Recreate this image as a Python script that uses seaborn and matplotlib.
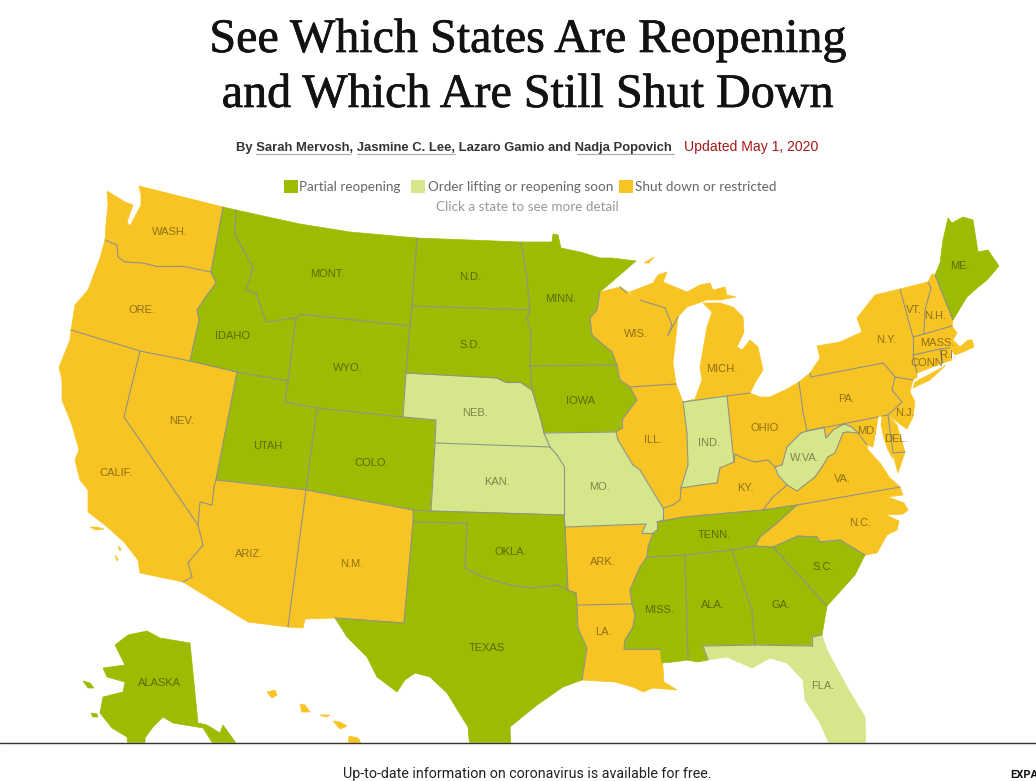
import numpy as np
import pandas as pd
import seaborn as sns
import matplotlib
matplotlib.use("Agg")
import matplotlib.pyplot as plt
import matplotlib.patheffects as pe
from collections import Counter

# status per state
PARTIAL = ["ALASKA", "ALA.", "COLO.", "GA.", "IDAHO", "IOWA", "ME.", "MINN.", "MISS.", "MONT.", "N.D.", "OKLA.", "S.C.", "S.D.", "TENN.", "TEXAS", "UTAH", "WYO."]
LIFTING = ["FLA.", "IND.", "KAN.", "MO.", "NEB.", "W.VA."]
LEGEND_LABELS = ["Partial reopening", "Order lifting or reopening soon", "Shut down or restricted"]
COLORS = ["#9dbb00", "#d6e68a", "#f8c424"]

# state outlines (pixel coordinates)
WASH = [(107,191),(125,202),(133,205),(127,222),(130,226),(141,205),(141,195),(139,186),(223,207),(211,272),(181,266),(155,266),(143,263),(125,262),(118,257),(117,245),(105,240),(106,225),(108,205)]
ORE = [(105,240),(117,245),(118,257),(125,262),(143,263),(155,266),(181,266),(211,272),(216,283),(205,298),(197,310),(199,320),(190,361),(140,351),(71,330),(73,318),(75,305),(88,290),(100,258)]
CALIF = [(71,330),(140,351),(124,417),(198,525),(203,545),(188,563),(192,577),(183,582),(140,573),(138,560),(124,542),(105,525),(88,512),(88,490),(80,480),(75,460),(79,450),(72,425),(62,400),(62,380),(59,367),(70,340)]
NEV = [(140,351),(190,361),(237,372),(216,480),(214,487),(212,505),(200,502),(198,525),(124,417)]
IDAHO = [(223,207),(236,210),(235,235),(241,245),(253,268),(246,290),(256,293),(266,322),(296,318),(288,381),(237,372),(190,361),(199,320),(197,310),(205,298),(216,283),(211,272)]
MONT = [(236,210),(300,224),(350,232),(417,238),(412,306),(410,326),(300,314),(296,318),(266,322),(256,293),(246,290),(253,268),(241,245),(235,235)]
WYO = [(300,314),(410,326),(406,373),(403,417),(317,408),(285,402),(288,381),(296,318)]
UTAH = [(237,372),(288,381),(285,402),(317,408),(306,490),(216,480)]
COLO = [(317,408),(403,417),(436,420),(435,443),(431,511),(413,510),(306,490)]
ARIZ = [(216,480),(306,490),(288,627),(248,622),(183,582),(192,577),(188,563),(203,545),(198,525),(200,502),(212,505),(214,487)]
NM = [(306,490),(413,510),(413,522),(404,623),(335,618),(305,619),(303,628),(288,627)]
NEB = [(406,373),(497,378),(505,382),(520,382),(532,390),(535,400),(541,420),(544,433),(550,447),(435,443),(436,420),(403,417)]
KAN = [(435,443),(550,447),(557,455),(564,466),(564,515),(431,511)]
SD = [(412,306),(530,310),(527,318),(531,333),(530,366),(532,390),(520,382),(505,382),(497,378),(406,373),(410,326)]
ND = [(417,238),(521,242),(527,280),(530,310),(412,306)]
MINN = [(521,242),(552,242),(553,234),(558,235),(561,248),(580,252),(600,258),(612,258),(636,261),(600,292),(597,310),(590,318),(592,335),(612,352),(617,365),(530,366),(531,333),(527,318),(530,310),(527,280)]
IOWA = [(530,366),(617,365),(620,380),(630,387),(637,400),(628,412),(622,420),(622,428),(616,432),(544,433),(541,420),(535,400),(532,390)]
WIS = [(600,292),(620,287),(627,293),(640,300),(665,308),(672,325),(668,335),(678,317),(673,363),(676,384),(630,387),(620,380),(617,365),(612,352),(592,335),(590,318),(597,310)]
MICH_UP = [(620,287),(627,293),(653,283),(658,275),(667,272),(663,282),(687,292),(700,285),(710,283),(713,290),(725,287),(727,295),(736,297),(720,300),(707,300),(687,307),(678,317),(668,335),(672,325),(665,308),(640,300)]
MICH_LOW = [(703,303),(720,303),(733,307),(743,317),(744,332),(737,347),(742,350),(750,340),(758,347),(763,370),(755,383),(750,393),(727,396),(683,402),(695,399),(702,380),(700,367),(707,327),(712,312)]
ILL = [(630,387),(676,384),(683,402),(687,433),(688,465),(681,488),(680,500),(673,505),(663,508),(640,470),(633,465),(618,440),(616,432),(622,428),(622,420),(628,412),(637,400)]
IND = [(683,402),(727,396),(734,462),(720,468),(717,483),(700,485),(681,488),(688,465),(687,433)]
OHIO = [(727,396),(750,393),(760,397),(770,397),(785,390),(799,382),(803,412),(807,431),(801,433),(787,447),(782,465),(775,467),(768,460),(755,462),(743,458),(735,454),(734,462)]
KY = [(663,508),(673,505),(680,500),(681,488),(700,485),(717,483),(720,468),(734,462),(735,454),(743,458),(755,462),(768,460),(775,467),(778,475),(787,485),(772,498),(763,510),(683,517),(657,522),(663,520)]
WVA = [(775,467),(782,465),(787,447),(801,433),(807,431),(824,427),(826,438),(833,430),(844,424),(852,427),(858,433),(847,432),(843,433),(835,453),(828,457),(822,467),(815,477),(797,491),(787,485),(778,475)]
PA = [(799,382),(810,373),(811,377),(883,363),(892,373),(895,377),(892,390),(902,402),(888,415),(882,416),(878,417),(807,431),(803,412)]
NY = [(810,373),(820,358),(817,346),(840,342),(862,332),(857,318),(875,295),(900,289),(907,315),(913,337),(913,355),(917,373),(917,377),(913,380),(895,377),(892,373),(883,363),(811,377)]
LONG_ISLAND = [(915,382),(945,366),(930,380),(913,388)]
VT = [(900,289),(928,282),(931,288),(925,310),(924,334),(913,337),(907,315)]
NH = [(928,282),(932,274),(935,275),(953,320),(952,326),(924,334),(925,310),(931,288)]
ME = [(935,275),(940,263),(943,240),(948,218),(952,223),(963,217),(973,220),(978,252),(988,250),(999,266),(987,280),(977,288),(967,297),(953,320)]
MASS = [(913,337),(924,334),(952,326),(957,333),(953,340),(960,347),(968,340),(972,340),(974,347),(963,352),(955,355),(950,348),(940,349),(913,355)]
CONN = [(913,355),(940,349),(943,363),(917,373)]
RI = [(940,349),(950,348),(952,360),(943,363)]
NJ = [(895,377),(913,380),(910,392),(915,402),(913,417),(907,429),(897,422),(888,415),(902,402),(892,390)]
DEL = [(888,415),(897,425),(905,452),(893,453)]
MD = [(807,431),(878,417),(876,430),(873,447),(867,445),(858,433),(852,427),(844,424),(833,430),(826,438),(824,427)]
MD_EAST = [(882,416),(888,415),(893,453),(893,459),(888,450),(884,438),(881,425)]
VA = [(787,485),(797,491),(815,477),(822,467),(828,457),(835,453),(843,433),(847,432),(858,433),(867,445),(868,450),(880,463),(890,478),(900,487),(797,505),(763,510),(772,498)]
VA_SHORE = [(893,453),(905,452),(898,473),(895,462)]
NC = [(900,487),(903,495),(888,497),(904,503),(908,510),(903,514),(886,515),(899,521),(897,530),(887,535),(877,553),(865,555),(840,540),(820,542),(817,537),(798,536),(773,547),(755,546),(760,537),(777,523),(797,505)]
TENN = [(657,522),(683,517),(763,510),(797,505),(777,523),(760,537),(755,546),(732,550),(685,555),(647,557),(648,547),(653,533),(657,530)]
ARK = [(565,527),(646,524),(642,533),(653,533),(648,547),(647,557),(640,567),(630,590),(632,604),(577,605),(576,593),(568,590)]
MO = [(544,433),(616,432),(618,440),(633,465),(640,470),(663,508),(663,520),(657,522),(657,530),(653,533),(642,533),(646,524),(565,527),(564,515),(564,466),(557,455),(550,447)]
OKLA = [(413,510),(431,511),(564,515),(565,527),(568,590),(557,585),(533,588),(510,585),(483,577),(465,568),(467,523),(413,522)]
TEXAS = [(413,522),(467,523),(465,568),(483,577),(510,585),(533,588),(557,585),(568,590),(576,593),(577,605),(578,628),(587,648),(582,680),(563,687),(537,705),(510,727),(511,750),(470,750),(468,727),(447,693),(430,677),(415,673),(405,680),(397,692),(377,677),(367,657),(347,637),(335,618),(404,623)]
LA = [(577,605),(632,604),(635,615),(633,627),(625,640),(624,649),(660,649),(663,667),(664,682),(677,690),(653,688),(643,692),(633,687),(615,682),(582,680),(587,648),(578,628)]
MISS = [(647,557),(685,555),(688,660),(673,662),(662,663),(660,649),(624,649),(625,640),(633,627),(635,615),(632,604),(630,590),(640,567)]
ALA = [(685,555),(732,550),(752,610),(755,645),(703,646),(708,660),(697,662),(688,660)]
GA = [(732,550),(755,546),(773,547),(827,606),(822,635),(812,637),(812,646),(755,645),(752,610)]
SC = [(773,547),(798,536),(817,537),(820,542),(840,540),(865,555),(855,575),(827,606)]
FLA = [(703,646),(755,645),(812,646),(812,637),(822,635),(827,650),(847,687),(865,717),(866,750),(832,750),(820,723),(805,700),(803,680),(787,663),(770,658),(752,668),(727,657),(708,660)]
ALASKA = [(115,645),(128,635),(147,631),(160,638),(190,643),(198,723),(207,725),(220,733),(223,725),(241,750),(217,750),(203,728),(173,723),(163,717),(153,727),(145,738),(145,750),(128,750),(127,737),(112,728),(100,713),(103,697),(123,692),(125,682),(107,677),(103,668),(125,665)]
ALASKA_ISLE1 = [(83,681),(90,683),(94,688),(88,688)]
ALASKA_ISLE2 = [(91,713),(97,714),(98,717),(93,717)]
HAWAII1 = [(267,692),(275,690),(277,695),(272,698)]
HAWAII2 = [(300,704),(305,705),(310,712),(302,712)]
HAWAII3 = [(320,715),(330,715),(326,717),(322,716)]
HAWAII4 = [(333,721),(340,722),(347,726),(340,729)]
HAWAII5 = [(349,736),(358,738),(365,750),(348,750)]
CAL_ISLE1 = [(90,527),(97,527),(104,529),(96,530)]
CAL_ISLE2 = [(118,546),(121,549),(120,551)]
CAL_ISLE3 = [(115,555),(118,559),(117,561)]
ISLE_ROYALE = [(644,263),(654,257),(649,263)]

STATES = [("WASH.",WASH),("ORE.",ORE),("CALIF.",CALIF),("NEV.",NEV),("IDAHO",IDAHO),("MONT.",MONT),("WYO.",WYO),("UTAH",UTAH),
          ("COLO.",COLO),("ARIZ.",ARIZ),("N.M.",NM),("NEB.",NEB),("KAN.",KAN),("S.D.",SD),("N.D.",ND),("MINN.",MINN),("IOWA",IOWA),
          ("WIS.",WIS),("MICH.",MICH_UP),("MICH.",MICH_LOW),("ILL.",ILL),("IND.",IND),("OHIO",OHIO),("KY.",KY),("W.VA.",WVA),("PA.",PA),
          ("N.Y.",NY),("N.Y.",LONG_ISLAND),("VT.",VT),("N.H.",NH),("ME.",ME),("MASS.",MASS),("CONN.",CONN),("R.I.",RI),("N.J.",NJ),
          ("DEL.",DEL),("MD.",MD),("MD.",MD_EAST),("VA.",VA),("VA.",VA_SHORE),("N.C.",NC),("TENN.",TENN),("ARK.",ARK),("MO.",MO),
          ("OKLA.",OKLA),("TEXAS",TEXAS),("LA.",LA),("MISS.",MISS),("ALA.",ALA),("GA.",GA),("S.C.",SC),("FLA.",FLA),("ALASKA",ALASKA),
          ("ALASKA",ALASKA_ISLE1),("ALASKA",ALASKA_ISLE2),("HAWAII",HAWAII1),("HAWAII",HAWAII2),("HAWAII",HAWAII3),("HAWAII",HAWAII4),
          ("HAWAII",HAWAII5),("CALIF.",CAL_ISLE1),("CALIF.",CAL_ISLE2),("CALIF.",CAL_ISLE3),("MICH.",ISLE_ROYALE)]

STATE_LABELS = ["WASH.","ORE.","CALIF.","NEV.","IDAHO","MONT.","WYO.","UTAH","COLO.","ARIZ.","N.M.","N.D.","S.D.","NEB.","KAN.","OKLA.","TEXAS","MINN.","IOWA","MO.","ARK.","LA.","WIS.","ILL.","MICH.","IND.","OHIO","KY.","TENN.","MISS.","ALA.","GA.","S.C.","FLA.","N.C.","VA.","W.VA.","PA.","N.Y.","VT.","N.H.","MASS.","R.I.","CONN.","N.J.","DEL.","MD.","ME.","ALASKA"]
LABEL_X = [170,142,116,181,233,327,348,268,372,249,352,470,470,475,497,511,487,561,581,600,603,603,636,653,722,709,765,745,714,659,713,781,823,823,860,842,805,847,886,914,935,937,948,928,905,896,867,960,159]
LABEL_Y = [232,310,473,421,336,274,368,446,463,554,564,277,345,413,482,552,648,299,401,487,562,632,334,440,369,443,428,488,535,610,605,605,567,686,523,479,458,399,340,310,316,343,355,363,413,439,431,266,683]


def status_color(name):
    if name in PARTIAL:
        return COLORS[0]
    if name in LIFTING:
        return COLORS[1]
    return COLORS[2]

sns.set_theme(style="white")
fig, ax = plt.subplots(figsize=(10.36, 7.81), dpi=100)
ax.set_position([0, 0, 1, 1])
ax.set_xlim(0, 1036)
ax.set_ylim(781, 0)
ax.axis("off")

# fill every state, with a hairline of its own colour to close the seams
seg_count = Counter()
for name, poly in STATES:
    xy = np.array(poly)
    ax.fill(xy[:, 0], xy[:, 1], color=status_color(name), lw=0.5, zorder=2)
    for a, b in zip(poly, poly[1:] + poly[:1]):
        seg_count[frozenset((a, b))] += 1

# only the borders shared by two states get a grey line, coasts stay clean
for seg, n in seg_count.items():
    if n >= 2:
        a, b = tuple(seg)
        ax.plot([a[0], b[0]], [a[1], b[1]], color="#8e9488", lw=0.8, zorder=3, solid_capstyle="round")

for lab, x, y in zip(STATE_LABELS, LABEL_X, LABEL_Y):
    ax.text(x, y, lab, ha="center", va="center", fontsize=8, family="Liberation Sans", color="#000000", alpha=0.42, zorder=4)

# headline
thick = [pe.withStroke(linewidth=0.5, foreground="#121212")]
ax.text(527.5, 52, "See Which States Are Reopening", ha="center", va="baseline", fontsize=34.6, family="Liberation Serif", color="#121212", path_effects=thick)
ax.text(527.5, 107, "and Which Are Still Shut Down", ha="center", va="baseline", fontsize=34.6, family="Liberation Serif", color="#121212", path_effects=thick)

# byline
ax.text(236, 151, "By Sarah Mervosh, Jasmine C. Lee, Lazaro Gamio and Nadja Popovich", ha="left", va="baseline", fontsize=9.4, weight="bold", family="Liberation Sans", color="#333333")
ax.text(684, 151, "Updated May 1, 2020", ha="left", va="baseline", fontsize=10.1, family="Liberation Sans", color="#a81817")
for x0, x1 in [(256, 351), (357, 455), (577, 674)]:
    ax.plot([x0, x1], [154, 154], color="#aaaaaa", lw=0.8)

# legend squares go through seaborn
legend_df = pd.DataFrame({"x": [291, 418, 626], "y": [186.5, 186.5, 186.5], "status": LEGEND_LABELS})
sns.scatterplot(data=legend_df, x="x", y="y", hue="status", palette=COLORS, marker="s", s=100, linewidth=0, legend=False, ax=ax)
ax.set_xlim(0, 1036)
ax.set_ylim(781, 0)
for x, lab in zip([299, 428, 635], LEGEND_LABELS):
    ax.text(x, 191, lab, ha="left", va="baseline", fontsize=9.7, family="Lato", color="#666666")
ax.text(527, 211, "Click a state to see more detail", ha="center", va="baseline", fontsize=9.7, family="Lato", color="#999999")

# sticky banner at the bottom covers the map
ax.axhspan(743, 781, color="white", zorder=6)
ax.axhline(743, color="#333333", lw=1.0, zorder=7)
ax.text(527.5, 778, "Up-to-date information on coronavirus is available for free.", ha="center", va="baseline", fontsize=10.3, family="Roboto", color="#222222", zorder=8)
ax.text(1010, 778, "EXPA", ha="left", va="baseline", fontsize=8, weight="bold", family="Roboto", color="#111111", zorder=8, clip_on=True)

fig.savefig("out.png", dpi=100)
